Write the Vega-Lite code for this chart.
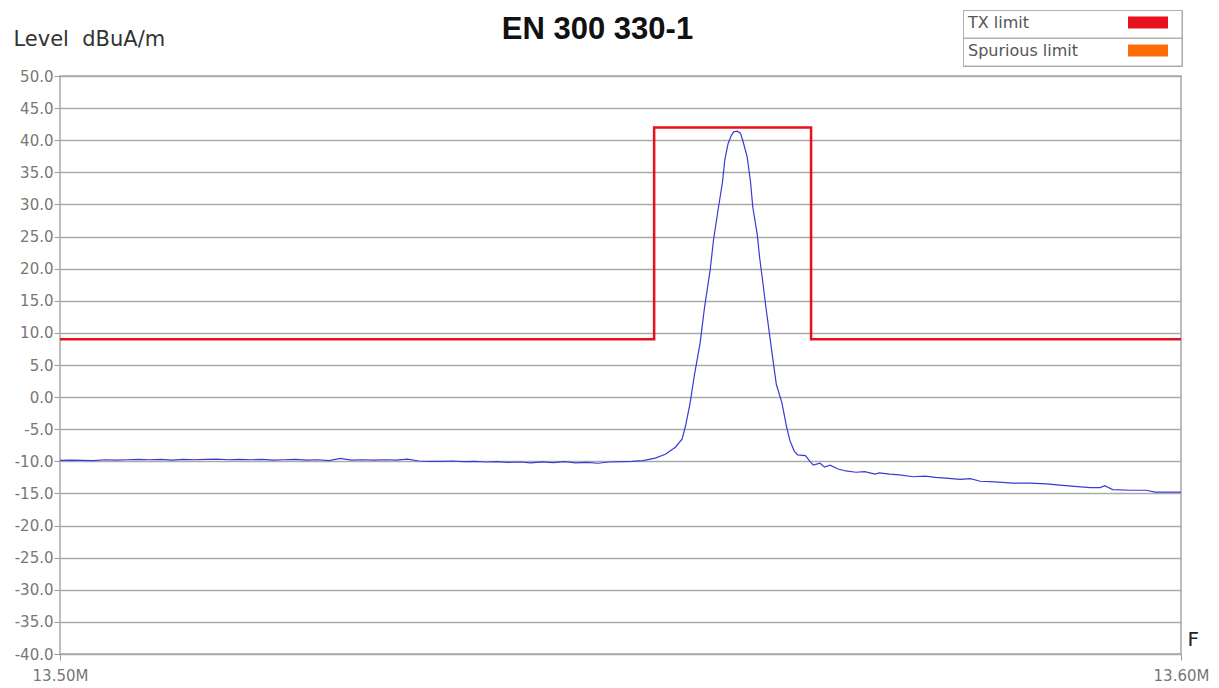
{
  "$schema": "https://vega.github.io/schema/vega-lite/v6.json",
  "width": 1121,
  "height": 578,
  "autosize": {"type": "none"},
  "padding": {"left": 60, "top": 76, "right": 38, "bottom": 34},
  "background": "white",
  "title": {
    "text": "EN 300 330-1",
    "font": "Liberation Sans",
    "fontSize": 31,
    "fontWeight": "bold",
    "color": "#111111",
    "anchor": "middle",
    "frame": "group",
    "baseline": "alphabetic",
    "dx": -23,
    "offset": -60
  },
  "config": {
    "view": {"stroke": "#a8a8a8", "strokeWidth": 1.5}
  },
  "datasets": {
    "limit": [
      {"i": 0, "f": 13.5, "v": 9, "s": "TX limit"},
      {"i": 1, "f": 13.553, "v": 9, "s": "TX limit"},
      {"i": 2, "f": 13.553, "v": 42, "s": "TX limit"},
      {"i": 3, "f": 13.567, "v": 42, "s": "TX limit"},
      {"i": 4, "f": 13.567, "v": 9, "s": "TX limit"},
      {"i": 5, "f": 13.6, "v": 9, "s": "TX limit"}
    ],
    "trace": [
      {"f": 13.500, "v": -9.85}, {"f": 13.501, "v": -9.8}, {"f": 13.502, "v": -9.85}, {"f": 13.503, "v": -9.9},
      {"f": 13.504, "v": -9.75}, {"f": 13.505, "v": -9.8}, {"f": 13.506, "v": -9.75}, {"f": 13.507, "v": -9.7},
      {"f": 13.508, "v": -9.75}, {"f": 13.509, "v": -9.7}, {"f": 13.510, "v": -9.8}, {"f": 13.511, "v": -9.7},
      {"f": 13.512, "v": -9.75}, {"f": 13.513, "v": -9.7}, {"f": 13.514, "v": -9.65}, {"f": 13.515, "v": -9.75},
      {"f": 13.516, "v": -9.7}, {"f": 13.517, "v": -9.75}, {"f": 13.518, "v": -9.7}, {"f": 13.519, "v": -9.8},
      {"f": 13.520, "v": -9.75}, {"f": 13.521, "v": -9.7}, {"f": 13.522, "v": -9.8}, {"f": 13.523, "v": -9.75},
      {"f": 13.524, "v": -9.9}, {"f": 13.525, "v": -9.55}, {"f": 13.526, "v": -9.8}, {"f": 13.527, "v": -9.75},
      {"f": 13.528, "v": -9.8}, {"f": 13.529, "v": -9.75}, {"f": 13.530, "v": -9.8}, {"f": 13.531, "v": -9.65},
      {"f": 13.532, "v": -9.95}, {"f": 13.533, "v": -10.0}, {"f": 13.534, "v": -10.0}, {"f": 13.535, "v": -9.95},
      {"f": 13.536, "v": -10.05}, {"f": 13.537, "v": -10.0}, {"f": 13.538, "v": -10.1}, {"f": 13.539, "v": -10.05},
      {"f": 13.540, "v": -10.15}, {"f": 13.541, "v": -10.1}, {"f": 13.542, "v": -10.25}, {"f": 13.543, "v": -10.1},
      {"f": 13.544, "v": -10.2}, {"f": 13.545, "v": -10.05}, {"f": 13.546, "v": -10.25}, {"f": 13.547, "v": -10.15},
      {"f": 13.548, "v": -10.3}, {"f": 13.549, "v": -10.1}, {"f": 13.550, "v": -10.05}, {"f": 13.551, "v": -10.0},
      {"f": 13.552, "v": -9.9}, {"f": 13.5531, "v": -9.5}, {"f": 13.5540, "v": -8.9}, {"f": 13.5549, "v": -7.8},
      {"f": 13.5555, "v": -6.5}, {"f": 13.5558, "v": -4.5}, {"f": 13.5562, "v": -1.0}, {"f": 13.5566, "v": 3.5},
      {"f": 13.5571, "v": 8.4}, {"f": 13.5575, "v": 14.0}, {"f": 13.5580, "v": 19.8}, {"f": 13.5583, "v": 24.5},
      {"f": 13.5587, "v": 29.1}, {"f": 13.5591, "v": 33.5}, {"f": 13.5593, "v": 36.9}, {"f": 13.5596, "v": 39.5},
      {"f": 13.5599, "v": 40.8}, {"f": 13.5601, "v": 41.3}, {"f": 13.5604, "v": 41.4}, {"f": 13.5607, "v": 41.1},
      {"f": 13.5609, "v": 40.0}, {"f": 13.5613, "v": 37.4}, {"f": 13.5616, "v": 33.5}, {"f": 13.5618, "v": 29.6},
      {"f": 13.5622, "v": 25.3}, {"f": 13.5624, "v": 21.9}, {"f": 13.5627, "v": 17.8}, {"f": 13.5630, "v": 13.6},
      {"f": 13.5633, "v": 9.7}, {"f": 13.5636, "v": 5.8}, {"f": 13.5639, "v": 2.0}, {"f": 13.5644, "v": -0.9},
      {"f": 13.5648, "v": -4.5}, {"f": 13.5651, "v": -6.7}, {"f": 13.5655, "v": -8.4}, {"f": 13.5658, "v": -9.0},
      {"f": 13.5665, "v": -9.1}, {"f": 13.5669, "v": -10.0}, {"f": 13.5672, "v": -10.6}, {"f": 13.5678, "v": -10.3},
      {"f": 13.5682, "v": -10.9}, {"f": 13.5687, "v": -10.6}, {"f": 13.5694, "v": -11.2}, {"f": 13.5701, "v": -11.5},
      {"f": 13.5710, "v": -11.7}, {"f": 13.5718, "v": -11.6}, {"f": 13.5727, "v": -12.0}, {"f": 13.5731, "v": -11.8},
      {"f": 13.5740, "v": -12.0}, {"f": 13.5749, "v": -12.1}, {"f": 13.5761, "v": -12.4}, {"f": 13.5772, "v": -12.3},
      {"f": 13.5781, "v": -12.5}, {"f": 13.5790, "v": -12.6}, {"f": 13.5803, "v": -12.8}, {"f": 13.5812, "v": -12.7},
      {"f": 13.5821, "v": -13.1}, {"f": 13.5834, "v": -13.2}, {"f": 13.5850, "v": -13.4}, {"f": 13.5865, "v": -13.4},
      {"f": 13.5880, "v": -13.5}, {"f": 13.5892, "v": -13.7}, {"f": 13.5905, "v": -13.9}, {"f": 13.5919, "v": -14.1},
      {"f": 13.5928, "v": -14.1}, {"f": 13.5932, "v": -13.8}, {"f": 13.5939, "v": -14.4}, {"f": 13.5955, "v": -14.5},
      {"f": 13.5969, "v": -14.5}, {"f": 13.5977, "v": -14.8}, {"f": 13.5990, "v": -14.8}, {"f": 13.6000, "v": -14.8}
    ]
  },
  "encoding": {
    "x": {
      "field": "f",
      "type": "quantitative",
      "scale": {"domain": [13.5, 13.6], "nice": false, "zero": false},
      "axis": {
        "values": [13.5, 13.6],
        "labelExpr": "format(datum.value, '.2f') + 'M'",
        "labelFlush": false,
        "labelOverlap": false,
        "grid": false,
        "domain": false,
        "ticks": true,
        "tickSize": 6,
        "tickColor": "#999999",
        "labelFont": "DejaVu Sans",
        "labelFontSize": 15,
        "labelColor": "#777777",
        "labelPadding": 8,
        "title": "F",
        "titleX": 1127,
        "titleY": -9,
        "titleAlign": "left",
        "titleBaseline": "alphabetic",
        "titleFont": "DejaVu Sans",
        "titleFontSize": 20,
        "titleFontWeight": "normal",
        "titleColor": "#222222"
      }
    },
    "y": {
      "field": "v",
      "type": "quantitative",
      "scale": {"domain": [-40, 50], "nice": false, "zero": false},
      "axis": {
        "values": [50, 45, 40, 35, 30, 25, 20, 15, 10, 5, 0, -5, -10, -15, -20, -25, -30, -35, -40],
        "labelExpr": "(datum.value < 0 ? '-' : '') + format(abs(datum.value), '.1f')",
        "grid": true,
        "gridColor": "#aaaaaa",
        "gridWidth": 1.5,
        "domain": false,
        "tickSize": 6,
        "tickColor": "#999999",
        "labelFont": "DejaVu Sans",
        "labelFontSize": 15,
        "labelColor": "#777777",
        "labelPadding": 1,
        "labelOverlap": false,
        "title": "Level\u00a0 dBuA/m",
        "titleAngle": 0,
        "titleX": -47,
        "titleY": -31,
        "titleAlign": "left",
        "titleBaseline": "alphabetic",
        "titleFont": "DejaVu Sans",
        "titleFontSize": 21,
        "titleFontWeight": "normal",
        "titleColor": "#333333"
      }
    }
  },
  "layer": [
    {
      "data": {"name": "limit"},
      "mark": {"type": "line", "strokeWidth": 2.5},
      "encoding": {
        "order": {"field": "i", "type": "quantitative"},
        "color": {
          "field": "s",
          "type": "nominal",
          "scale": {"domain": ["TX limit", "Spurious limit"], "range": ["#e8101a", "#ff6d0a"]},
          "legend": {
            "orient": "none",
            "legendX": 903,
            "legendY": -66,
            "title": null,
            "direction": "vertical",
            "strokeColor": "#a0a0a0",
            "fillColor": "#ffffff",
            "padding": 0,
            "labelFont": "DejaVu Sans",
            "labelFontSize": 16,
            "labelColor": "#555555",
            "labelOffset": -188,
            "labelLimit": 300,
            "symbolOffset": 177,
            "symbolType": "M-4,-1.2H4V1.2H-4ZM6.6,2.9",
            "symbolSize": 100,
            "symbolStrokeWidth": 0,
            "rowPadding": 0,
            "encode": {
              "entries": {
                "update": {
                  "width": {"value": 154},
                  "height": {"value": 27},
                  "stroke": {"value": "#b0b0b0"},
                  "strokeWidth": {"value": 1}
                }
              },
              "labels": {
                "update": {"y": {"value": 12.5}}
              },
              "symbols": {
                "update": {
                  "y": {"value": 12.5},
                  "fill": {"scale": "color", "field": "value"},
                  "stroke": {"value": "transparent"},
                  "strokeWidth": {"value": 0}
                }
              }
            }
          }
        }
      }
    },
    {
      "data": {"name": "trace"},
      "mark": {"type": "line", "color": "#3a3ad6", "strokeWidth": 1.2}
    }
  ]
}
